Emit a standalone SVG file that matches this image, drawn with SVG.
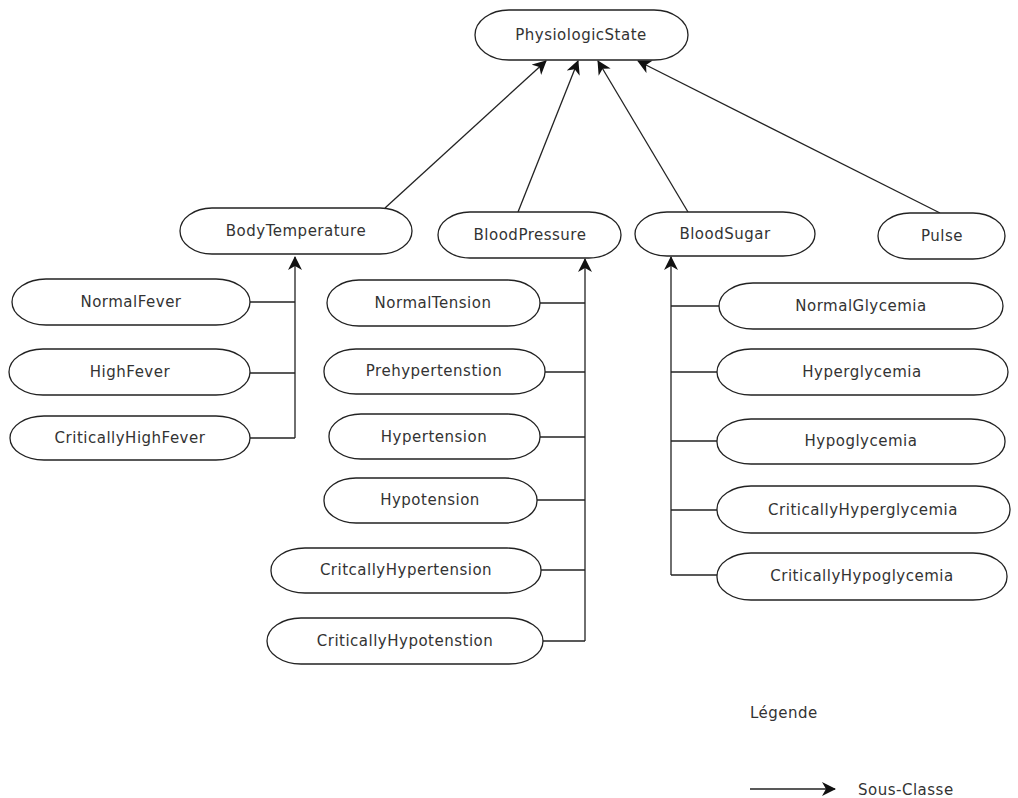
<svg xmlns="http://www.w3.org/2000/svg" width="1018" height="798" viewBox="0 0 1018 798">
<style>
.n rect{fill:#fff;stroke:#222;stroke-width:1.3}
.n text,.t{font-family:"DejaVu Sans",Verdana,sans-serif;font-size:15px;letter-spacing:0.5px;fill:#333;text-anchor:middle;dominant-baseline:central}
.c line,.c polyline{stroke:#222;stroke-width:1.3;fill:none}
</style>
<defs>
<marker id="a" viewBox="0 0 14 14" refX="13" refY="7" markerWidth="14" markerHeight="14" markerUnits="userSpaceOnUse" orient="auto">
<path d="M0,0 L14,7 L0,14 L4,7 Z" fill="#111"/>
</marker>
</defs>
<rect width="1018" height="798" fill="#fff"/>
<g class="c">
<line x1="385" y1="208" x2="546" y2="61" marker-end="url(#a)"/>
<line x1="518" y1="212" x2="578" y2="61" marker-end="url(#a)"/>
<line x1="688" y1="212" x2="598" y2="61" marker-end="url(#a)"/>
<line x1="940" y1="213" x2="638" y2="61" marker-end="url(#a)"/>
<line x1="295" y1="438" x2="295" y2="257" marker-end="url(#a)"/>
<line x1="250" y1="302" x2="295" y2="302"/>
<line x1="250" y1="373" x2="295" y2="373"/>
<line x1="250" y1="438" x2="295" y2="438"/>
<line x1="585" y1="641" x2="585" y2="259" marker-end="url(#a)"/>
<line x1="540" y1="303" x2="585" y2="303"/>
<line x1="545" y1="372" x2="585" y2="372"/>
<line x1="540" y1="437" x2="585" y2="437"/>
<line x1="537" y1="500" x2="585" y2="500"/>
<line x1="541" y1="570" x2="585" y2="570"/>
<line x1="530" y1="641" x2="585" y2="641"/>
<line x1="671" y1="575" x2="671" y2="257" marker-end="url(#a)"/>
<line x1="671" y1="306" x2="719" y2="306"/>
<line x1="671" y1="372" x2="717" y2="372"/>
<line x1="671" y1="441" x2="717" y2="441"/>
<line x1="671" y1="510" x2="717" y2="510"/>
<line x1="671" y1="575" x2="717" y2="575"/>
<line x1="750" y1="789" x2="835" y2="789" marker-end="url(#a)"/>
</g>
<g id="PhysiologicState" class="n"><rect x="475" y="10" width="213" height="50" rx="34" ry="25"/><text x="581" y="35">PhysiologicState</text></g>
<g id="BodyTemperature" class="n"><rect x="180" y="208" width="232" height="46" rx="32" ry="23"/><text x="296" y="231">BodyTemperature</text></g>
<g id="BloodPressure" class="n"><rect x="438" y="212" width="183" height="46" rx="32" ry="23"/><text x="530" y="235">BloodPressure</text></g>
<g id="BloodSugar" class="n"><rect x="635" y="212" width="180" height="44" rx="32" ry="22"/><text x="725" y="234">BloodSugar</text></g>
<g id="Pulse" class="n"><rect x="878" y="213" width="127" height="46" rx="32" ry="23"/><text x="942" y="236">Pulse</text></g>
<g id="NormalFever" class="n"><rect x="12" y="279" width="238" height="46" rx="34" ry="23"/><text x="131" y="302">NormalFever</text></g>
<g id="HighFever" class="n"><rect x="9" y="349" width="241" height="46" rx="34" ry="23"/><text x="130" y="372">HighFever</text></g>
<g id="CriticallyHighFever" class="n"><rect x="10" y="416" width="240" height="44" rx="34" ry="22"/><text x="130" y="438">CriticallyHighFever</text></g>
<g id="NormalTension" class="n"><rect x="327" y="280" width="213" height="46" rx="32" ry="23"/><text x="433" y="303">NormalTension</text></g>
<g id="Prehypertenstion" class="n"><rect x="324" y="349" width="221" height="45" rx="32" ry="22"/><text x="434" y="371">Prehypertenstion</text></g>
<g id="Hypertension" class="n"><rect x="329" y="414" width="211" height="45" rx="32" ry="22"/><text x="434" y="437">Hypertension</text></g>
<g id="Hypotension" class="n"><rect x="324" y="478" width="213" height="45" rx="32" ry="22"/><text x="430" y="500">Hypotension</text></g>
<g id="CritcallyHypertension" class="n"><rect x="271" y="548" width="270" height="45" rx="34" ry="22"/><text x="406" y="570">CritcallyHypertension</text></g>
<g id="CriticallyHypotenstion" class="n"><rect x="267" y="618" width="276" height="46" rx="34" ry="23"/><text x="405" y="641">CriticallyHypotenstion</text></g>
<g id="NormalGlycemia" class="n"><rect x="719" y="283" width="284" height="46" rx="34" ry="23"/><text x="861" y="306">NormalGlycemia</text></g>
<g id="Hyperglycemia" class="n"><rect x="717" y="349" width="291" height="46" rx="34" ry="23"/><text x="862" y="372">Hyperglycemia</text></g>
<g id="Hypoglycemia" class="n"><rect x="717" y="419" width="288" height="45" rx="34" ry="22"/><text x="861" y="441">Hypoglycemia</text></g>
<g id="CriticallyHyperglycemia" class="n"><rect x="717" y="486" width="293" height="47" rx="34" ry="23"/><text x="863" y="510">CriticallyHyperglycemia</text></g>
<g id="CriticallyHypoglycemia" class="n"><rect x="717" y="553" width="290" height="47" rx="34" ry="23"/><text x="862" y="576">CriticallyHypoglycemia</text></g>
<text class="t" x="750" y="713" style="text-anchor:start">Légende</text>
<text class="t" x="858" y="790" style="text-anchor:start">Sous-Classe</text>
</svg>
